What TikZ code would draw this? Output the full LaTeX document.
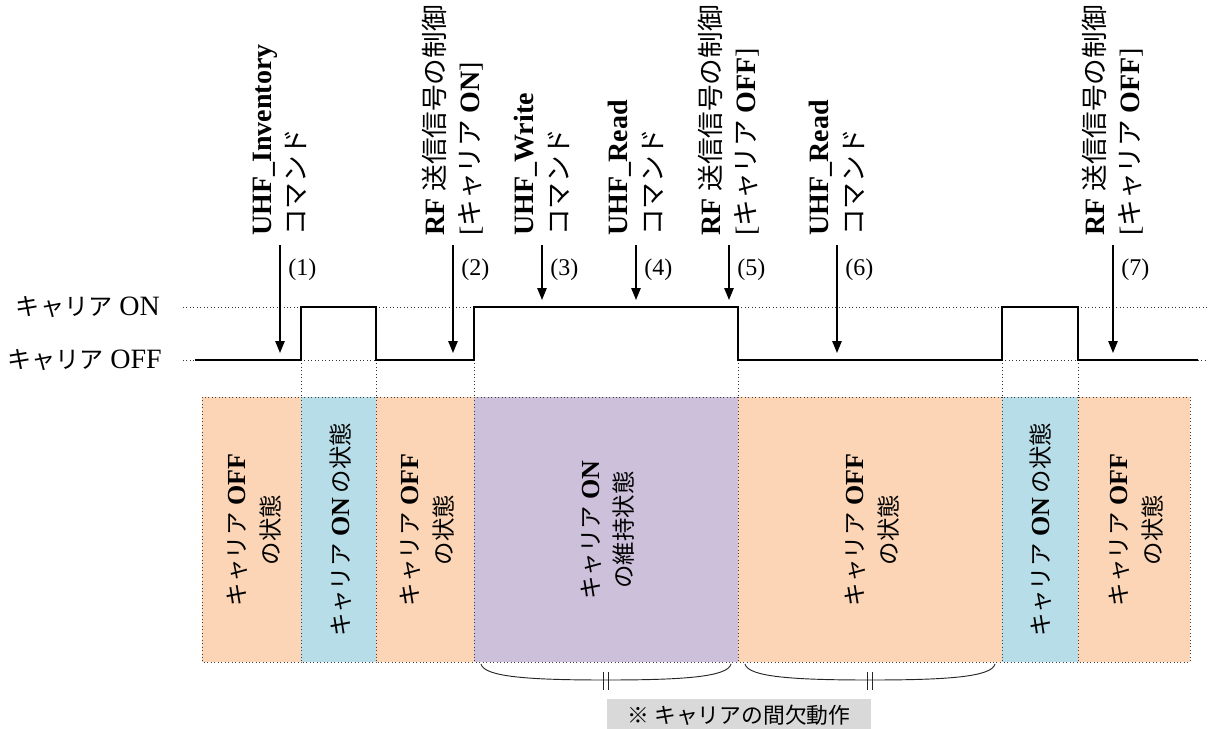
\documentclass[tikz,border=0pt]{standalone}
\usepackage{fontspec}
\setmainfont{Liberation Serif}
\newfontfamily\jpA[Scale=0.95]{Noto Sans CJK JP}
\newfontfamily\jpB[Scale=0.86]{Noto Sans CJK JP}
\newfontfamily\jpC[Scale=0.9]{Noto Sans CJK JP}
\usetikzlibrary{arrows.meta}
\let\curjp\jpA
\newcommand{\J}[1]{{\curjp #1}}
\definecolor{offfill}{HTML}{FBD5B5}
\definecolor{onfill}{HTML}{B7DEE8}
\definecolor{keepfill}{HTML}{CCC0DA}
\definecolor{notefill}{HTML}{D9D9D9}
\begin{document}
\begin{tikzpicture}[x=0.75pt,y=-0.75pt,
  wave/.style={line width=1.7pt, line join=miter},
  guide/.style={dotted, line width=0.6pt, black!80},
  cmd/.style={-{Triangle[length=9pt,width=7pt]}, line width=1.3pt},
  toplabel/.style={rotate=90, anchor=west, align=left, inner sep=0pt,
    font=\fontsize{21}{26}\selectfont\let\curjp\jpA},
  numlabel/.style={anchor=west, inner sep=0pt, font=\fontsize{18}{20}\selectfont},
  levellabel/.style={anchor=east, inner sep=0pt, font=\fontsize{21}{22}\selectfont\let\curjp\jpB},
  statebox/.style={draw=black!75, dotted, line width=0.6pt},
  statelabel/.style={rotate=90, align=center, inner sep=0pt,
    font=\fontsize{19.5}{25}\selectfont\let\curjp\jpC},
  bracepath/.style={line width=0.7pt, black!85},
]
\useasboundingbox (0,0) rectangle (1208,729);

% level labels
\node[levellabel] (lon) at (160,307) {\J{キャリア} ON};
\node[levellabel] (loff) at (162,360) {\J{キャリア} OFF};

% dotted guide levels
\draw[guide] (183,307) -- (301,307);
\draw[guide] (376,307) -- (474,307);
\draw[guide] (738,307) -- (1002,307);
\draw[guide] (1078,307) -- (1208,307);
\draw[guide] (183,360) -- (195,360);
\draw[guide] (301,360) -- (376,360);
\draw[guide] (1002,360) -- (1078,360);
\draw[guide] (1198,360) -- (1208,360);
\foreach \x in {301,376,474,738,1002,1078} \draw[guide] (\x,360) -- (\x,397);

% state boxes
\path[statebox, fill=offfill] (202,397) rectangle (301,662);
\path[statebox, fill=onfill] (301,397) rectangle (376,662);
\path[statebox, fill=offfill] (376,397) rectangle (474,662);
\path[statebox, fill=keepfill] (474,397) rectangle (738,662);
\path[statebox, fill=offfill] (738,397) rectangle (1002,662);
\path[statebox, fill=onfill] (1002,397) rectangle (1078,662);
\path[statebox, fill=offfill] (1078,397) rectangle (1190,662);

\node[statelabel] (s1) at (254,530) {\J{キャリア} \textbf{OFF}\\\J{の状態}};
\node[statelabel] (s2) at (341,530) {\J{キャリア} \textbf{ON}\,\J{の状態}};
\node[statelabel] (s3) at (427,530) {\J{キャリア} \textbf{OFF}\\\J{の状態}};
\node[statelabel] (s4) at (608,530) {\J{キャリア} \textbf{ON}\\\J{の維持状態}};
\node[statelabel] (s5) at (872,530) {\J{キャリア} \textbf{OFF}\\\J{の状態}};
\node[statelabel] (s6) at (1041,530) {\J{キャリア} \textbf{ON}\,\J{の状態}};
\node[statelabel] (s7) at (1136,530) {\J{キャリア} \textbf{OFF}\\\J{の状態}};

% waveform
\draw[wave] (195,360) -- (301,360) -- (301,307) -- (376,307) -- (376,360)
  -- (474,360) -- (474,307) -- (738,307) -- (738,360) -- (1002,360)
  -- (1002,307) -- (1078,307) -- (1078,360) -- (1198,360);

% command arrows
\foreach \n/\x/\yb in {1/280/353, 2/453/353, 3/542/300, 4/636/300, 5/729/300, 6/837/353, 7/1113/353} {
  \coordinate (a\n) at (\x,245);
  \coordinate (b\n) at (\x,\yb);
  \draw[cmd] (a\n) -- (b\n);
  \node[numlabel] (n\n) at (\x+8,270) {(\n)};
}

% top labels
\node[toplabel] (t1) at (280,236) {\textbf{UHF\_Inventory}\\\J{コマンド}};
\node[toplabel] (t2) at (453,236) {\textbf{RF} \J{送信信号の制御}\\{[}\J{キャリア} \textbf{ON}]};
\node[toplabel] (t3) at (542,236) {\textbf{UHF\_Write}\\\J{コマンド}};
\node[toplabel] (t4) at (636,236) {\textbf{UHF\_Read}\\\J{コマンド}};
\node[toplabel] (t5) at (729,236) {\textbf{RF} \J{送信信号の制御}\\{[}\J{キャリア} \textbf{OFF}]};
\node[toplabel] (t6) at (837,236) {\textbf{UHF\_Read}\\\J{コマンド}};
\node[toplabel] (t7) at (1113,236) {\textbf{RF} \J{送信信号の制御}\\{[}\J{キャリア} \textbf{OFF}]};

% braces
\draw[bracepath] (481,664) .. controls (484,677) and (530,680) .. (606,680)
  .. controls (682,680) and (728,677) .. (731,664);
\draw[bracepath] (603,672) -- (603,690) (608,672) -- (608,690);
\draw[bracepath] (745,664) .. controls (748,677) and (794,680) .. (870,680)
  .. controls (946,680) and (992,677) .. (995,664);
\draw[bracepath] (867,672) -- (867,690) (872,672) -- (872,690);

% note
\node[fill=notefill, minimum width=198pt, minimum height=24pt, inner sep=0pt,
  font=\fontsize{19}{20}\selectfont\let\curjp\jpB] (note) at (739,715) {\J{※ キャリアの間欠動作}};
\end{tikzpicture}
\end{document}
